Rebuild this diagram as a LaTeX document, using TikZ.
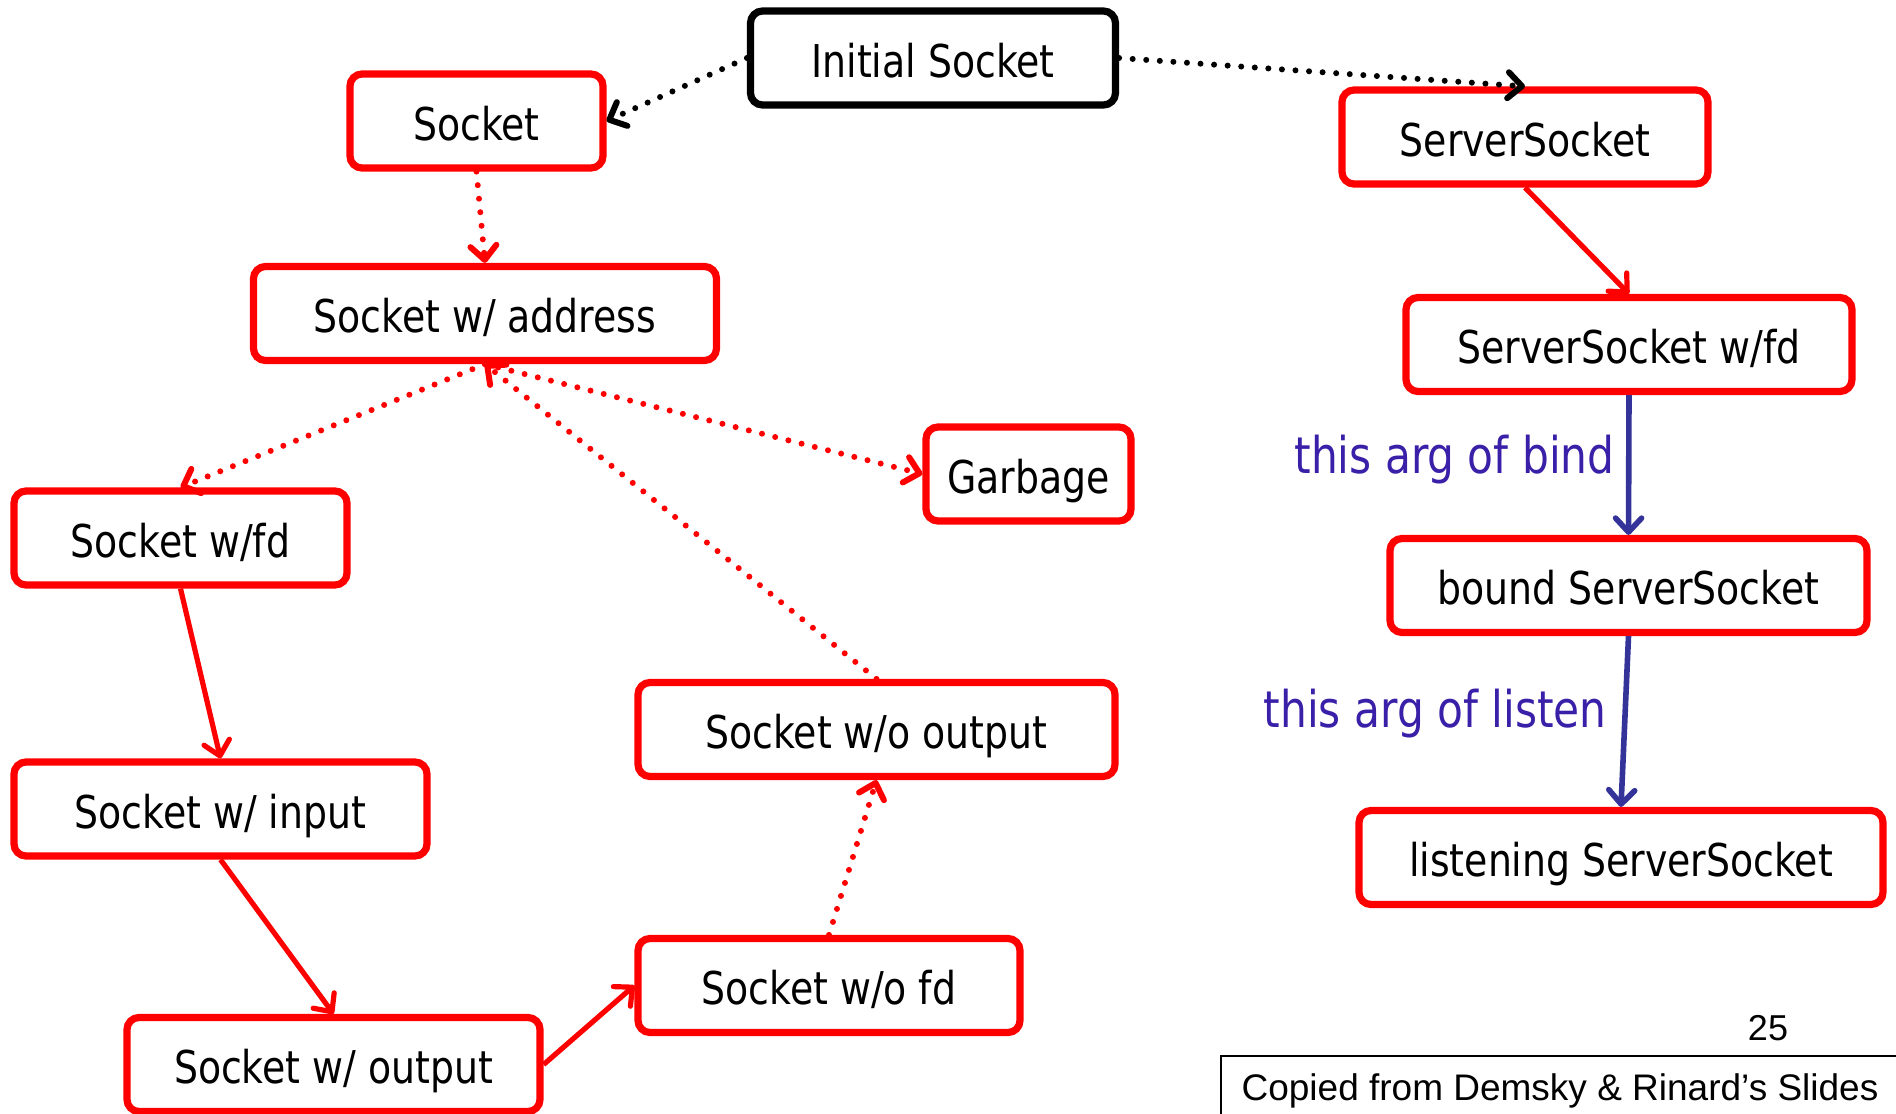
\documentclass[tikz,border=0pt]{standalone}
\usepackage{fontspec}
\setmainfont{Liberation Sans}
\newfontfamily\boxfont{DejaVu Sans Condensed}[FakeStretch=0.93]
\usetikzlibrary{arrows.meta}
\definecolor{boxred}{RGB}{255,0,0}
\definecolor{argblue}{RGB}{58,32,168}
\definecolor{arrowblue}{RGB}{51,51,153}

\begin{document}
\begin{tikzpicture}[x=0.5pt,y=-0.5pt,
  state/.style={draw=boxred, line width=3.6pt, rounded corners=6pt, fill=white,
    minimum height=47pt, inner sep=0pt, text=black,
    text height=19pt, text depth=0pt,
    font=\boxfont\fontsize{22.6}{26}\selectfont},
  startstate/.style={state, draw=black},
  barbtip/.style={-{Straight Barb[length=7pt,width=13pt,line join=round,line cap=round]}},
  solidedge/.style={draw=boxred, line width=2.6pt, barbtip},
  dotedge/.style={draw=boxred, line width=3pt, line cap=round,
    dash pattern=on 0pt off 6.8pt, barbtip},
  blackdot/.style={dotedge, draw=black},
  blueedge/.style={draw=arrowblue, line width=2.8pt, barbtip},
  arglabel/.style={anchor=east, inner sep=0pt, text=argblue,
    font=\boxfont\fontsize{25.3}{30}\selectfont}]

  % canvas
  \fill[white] (0,0) rectangle (1896,1114);
  \useasboundingbox (0,0) rectangle (1896,1114);

  % states of Socket and ServerSocket objects
  \node[startstate, minimum width=182.5pt] (init) at (933,58) {Initial Socket};
  \node[state, minimum width=126.5pt] (sock) at (476.5,121) {Socket};
  \node[state, minimum width=183pt] (srv) at (1525,137) {ServerSocket};
  \node[state, minimum width=231.5pt] (addr) at (485,313.5) {Socket w/ address};
  \node[state, minimum width=223pt] (sfd) at (1629,344.5) {ServerSocket w/fd};
  \node[state, minimum width=102.5pt] (garb) at (1028.5,474) {Garbage};
  \node[state, minimum width=166.5pt] (wfd) at (180.5,538) {Socket w/fd};
  \node[state, minimum width=238.5pt] (bound) at (1628.5,585.5) {bound ServerSocket};
  \node[state, minimum width=238.5pt] (woout) at (876.5,729.5) {Socket w/o output};
  \node[state, minimum width=206.5pt] (winput) at (220.5,809) {Socket w/ input};
  \node[state, minimum width=262pt] (listen) at (1621,857.5) {listening ServerSocket};
  \node[state, minimum width=191pt] (wofd) at (829,985.5) {Socket w/o fd};
  \node[state, minimum width=206.5pt] (woutput) at (333.5,1064.5) {Socket w/ output};

  % transitions
  \draw[blackdot] (init.west) -- (sock.east);
  \draw[blackdot] (init.east) -- (srv.north);
  \draw[dotedge] (sock.south) -- (addr.north);
  \draw[solidedge] (srv.south) -- (sfd.north);
  \draw[dotedge] (addr.south) -- (wfd.north);
  \draw[dotedge] (addr.south) -- (garb.west);
  \draw[dotedge] (woout.north) -- (addr.south);
  \draw[solidedge] (wfd.south) -- (winput.north);
  \draw[solidedge] (winput.south) -- (woutput.north);
  \draw[solidedge] (woutput.east) -- (wofd.west);
  \draw[dotedge] (wofd.north) -- (woout.south);
  \draw[blueedge] (sfd.south) -- (bound.north);
  \draw[blueedge] (bound.south) -- (listen.north);

  % argument labels
  \node[arglabel] (bindlbl) at (1615,460) {this arg of bind};
  \node[arglabel] (listenlbl) at (1607,714) {this arg of listen};

  % slide number and credit
  \node[font=\fontsize{18}{22}\selectfont, inner sep=0pt] (pagenum) at (1768,1028) {25};
  \draw[line width=0.8pt] (1221,1114) -- (1221,1056) -- (1896,1056);
  \node[font=\fontsize{18.5}{22}\selectfont, inner sep=0pt] (credit) at (1560,1091) {Copied from Demsky \& Rinard’s Slides};
\end{tikzpicture}
\end{document}
